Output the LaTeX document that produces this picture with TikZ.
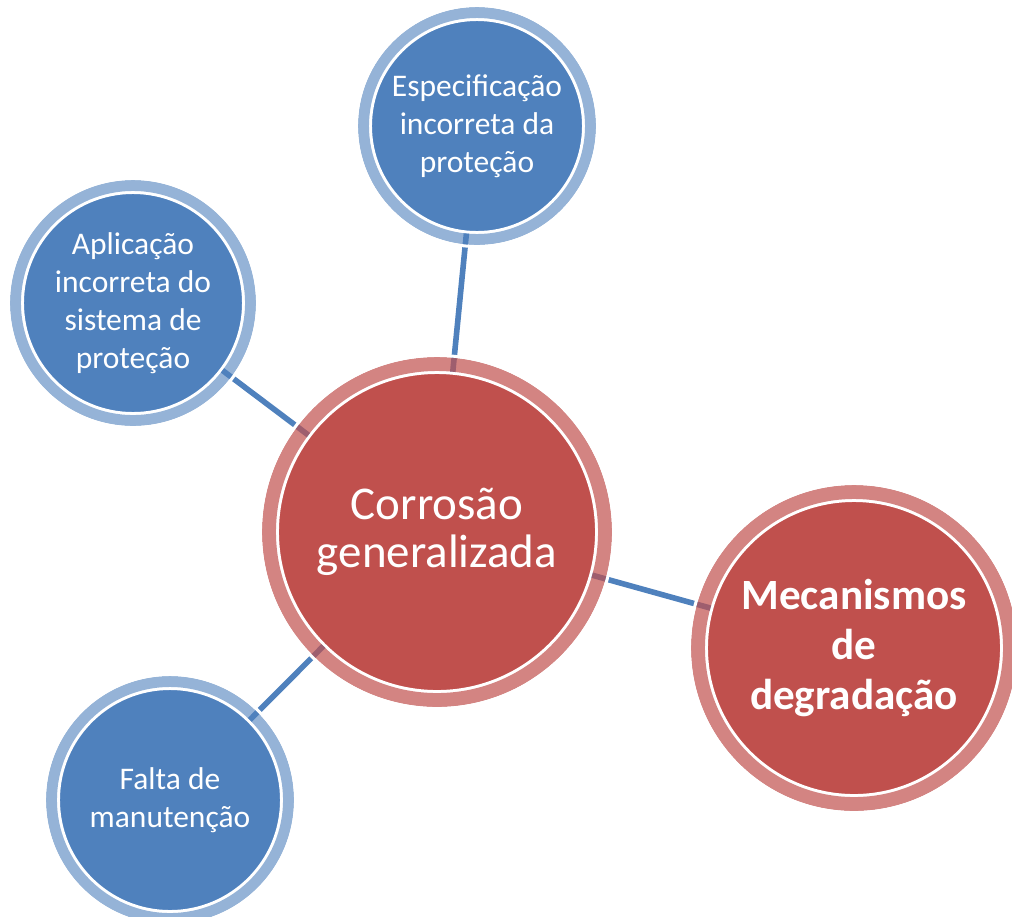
\documentclass[tikz,border=0pt]{standalone}
\usepackage{fontspec}
\setmainfont{Carlito}
\usepackage{tikz}

\definecolor{accblue}{HTML}{4F81BD}
\definecolor{accred}{HTML}{C0504D}

\tikzset{
  causebox/.style={circle, fill=accblue, draw=white, line width=0.075cm, inner sep=0pt,
    text=white, align=center, font=\fontsize{22.4}{27}\selectfont},
  mainbox/.style={circle, fill=accred, draw=white, line width=0.075cm, inner sep=0pt,
    text=white, align=center},
  bluering/.style={draw=accblue, draw opacity=0.6, line width=0.275cm},
  redring/.style={draw=accred, draw opacity=0.7, line width=0.35cm},
  halo/.style={draw=white, line width=0.075cm},
  link/.style={draw=accblue, line width=0.14cm}
}

\begin{document}
\begin{tikzpicture}[x=0.025cm, y=-0.025cm]
\useasboundingbox (0,0) rectangle (1012,916);
\node[causebox, minimum size=5.325cm] (spec) at (477,126) {Especificação\\incorreta da\\proteção};
\node[causebox, minimum size=5.525cm] (apl) at (133,303) {Aplicação\\incorreta do\\sistema de\\proteção};
\node[causebox, minimum size=5.575cm] (falta) at (170,800) {Falta de\\manutenção};
\node[mainbox, minimum size=7.975cm, font=\fontsize{33.4}{34.1}\selectfont] (corr) at (437,532) {Corrosão\\generalizada};
\node[mainbox, minimum size=7.375cm, font=\bfseries\fontsize{30.7}{35.6}\selectfont] (mec) at (854,648) {Mecanismos\\de\\degradação};
\draw[link] (spec) -- (corr);
\draw[link] (apl) -- (corr);
\draw[link] (falta) -- (corr);
\draw[link] (mec) -- (corr);
\draw[bluering] (spec) circle (2.8375cm);
\draw[halo] (spec) circle (3.0125cm);
\draw[bluering] (apl) circle (2.9375cm);
\draw[halo] (apl) circle (3.1125cm);
\draw[bluering] (falta) circle (2.9625cm);
\draw[halo] (falta) circle (3.1375cm);
\draw[redring] (corr) circle (4.2cm);
\draw[halo] (corr) circle (4.4125cm);
\draw[redring] (mec) circle (3.9cm);
\draw[halo] (mec) circle (4.1125cm);
\end{tikzpicture}
\end{document}
